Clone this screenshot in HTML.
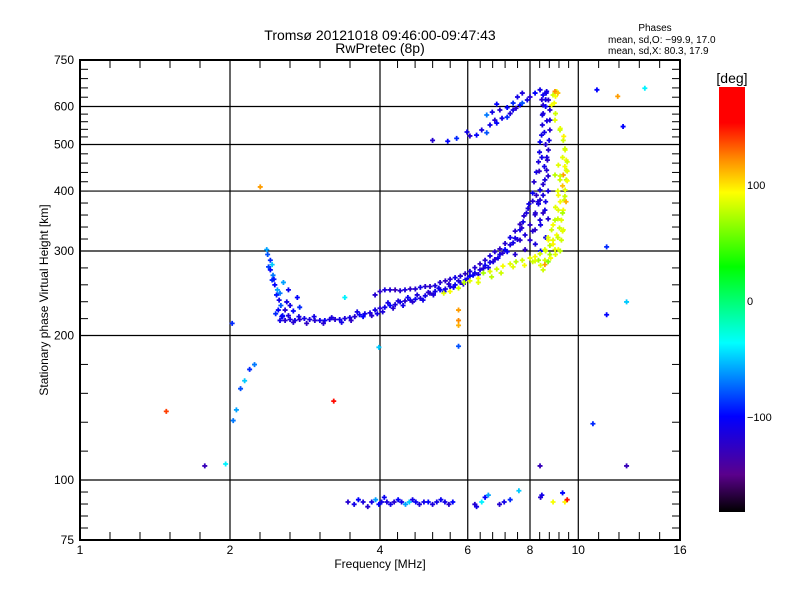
<!DOCTYPE html>
<html><head><meta charset="utf-8"><style>
html,body{margin:0;padding:0;background:#fff;}
svg{display:block;font-family:"Liberation Sans",sans-serif;}
</style></head><body>
<svg id="chart" width="800" height="600" viewBox="0 0 800 600" xmlns="http://www.w3.org/2000/svg">
<defs>
<linearGradient id="cbar" x1="0" y1="1" x2="0" y2="0">
<stop offset="0" stop-color="#000000"/>
<stop offset="0.088" stop-color="#5a008c"/>
<stop offset="0.225" stop-color="#0000ff"/>
<stop offset="0.398" stop-color="#00ffff"/>
<stop offset="0.577" stop-color="#00ff00"/>
<stop offset="0.752" stop-color="#ffff00"/>
<stop offset="0.830" stop-color="#ff8c00"/>
<stop offset="0.916" stop-color="#ff0000"/>
<stop offset="1" stop-color="#ff0000"/>
</linearGradient>
</defs>
<text x="380" y="40" font-size="14" text-anchor="middle">Tromsø 20121018 09:46:00-09:47:43</text>
<text x="380" y="53" font-size="14" text-anchor="middle">RwPretec (8p)</text>
<text x="655" y="31" font-size="10" text-anchor="middle">Phases</text>
<text x="608" y="43" font-size="10">mean, sd,O: −99.9, 17.0</text>
<text x="608" y="54" font-size="10">mean, sd,X:  80.3, 17.9</text>
<g id="grid"></g>
<g id="points"></g>
<rect x="80" y="60" width="600" height="480" fill="none" stroke="#000" stroke-width="2"/>
<g id="ticks"></g>
<text x="380" y="568" font-size="12" text-anchor="middle">Frequency [MHz]</text>
<text transform="translate(48,300) rotate(-90)" font-size="12" text-anchor="middle">Stationary phase Virtual Height [km]</text>
<rect x="719" y="87" width="26" height="425" fill="url(#cbar)"/>
<text x="732" y="83" font-size="14" text-anchor="middle">[deg]</text>
<text x="747" y="189" font-size="11">100</text>
<text x="747" y="305" font-size="11">0</text>
<text x="747" y="421" font-size="11">−100</text>
</svg>
<script>
const xTicks=[1,2,4,6,8,10,16];
const yTicks=[75,100,200,300,400,500,600,750];
const xGrid=[2,4,6,8,10];
const yGrid=[100,200,300,400,500,600];
// O lower trace
const oLowF=[2.52,2.58,2.64,2.70,2.76,2.82,2.89,2.96,3.03,3.10,3.17,3.25,3.32,3.40,3.48,3.56,3.64,3.73,3.82,3.91,4.0,4.09,4.19,4.29,4.39,4.49,4.6,4.71,4.82,4.93,5.04,5.16,5.28,5.41,5.53,5.66,5.8,5.93,6.06,6.2,6.35,6.5,6.65,6.8,6.96,7.13,7.3,7.47,7.64,7.75,7.87,7.96,8.1,8.15,8.24,8.32,8.36,8.38,8.44,8.47,8.47,8.5,8.5];
const oLowH=[215,215,216,215,216,217,216,215,215,215,216,216,216,217,218,219,221,222,223,226,228,229,231,232,235,236,237,238,239,242,245,247,249,250,253,255,258,261,266,270,274,280,284,288,295,302,309,319,332,345,360,376,396,418,438,460,482,506,523,549,576,604,634];
const oLowP=[-110,-120,-115,-110,-125,-110,-115,-120,-110,-105,-115,-120,-110,-115,-110,-120,-105,-110,-115,-110,-120,-110,-100,-115,-110,-120,-110,-105,-115,-110,-120,-110,-100,-115,-110,-105,-115,-110,-100,-110,-115,-105,-110,-120,-110,-100,-115,-110,-105,-110,-115,-110,-105,-120,-110,-115,-110,-105,-110,-115,-110,-120,-105];
// O lower trace, second row (thickness)
const oLow2F=[2.55,2.62,2.68,2.75,2.85,2.95,3.08,3.2,3.35,3.5,3.6,3.7,3.85,3.95,4.05,4.15,4.25,4.35,4.45,4.55,4.65,4.75,4.88,5.0,5.12,5.25,5.38,5.5,5.62,5.75,5.88,6.0,6.15,6.3,6.45,6.6,6.75,6.9,7.05,7.2,7.4,7.55,7.7];
const oLow2H=[219,220,213,219,212,219,212,218,213,215,224,219,220,222,224,234,228,236,231,240,235,243,237,246,243,251,247,256,252,260,256,263,267,268,276,277,285,290,297,299,312,317,335];
const oLow2P=[-100,-115,-120,-110,-125,-110,-120,-115,-110,-125,-110,-100,-120,-110,-115,-110,-120,-115,-110,-105,-120,-115,-110,-120,-115,-110,-105,-120,-110,-115,-120,-110,-105,-115,-120,-110,-115,-110,-120,-105,-110,-115,-120];
// O upper trace
const oUpF=[3.91,4.0,4.09,4.19,4.29,4.39,4.49,4.6,4.71,4.82,4.93,5.04,5.16,5.28,5.41,5.53,5.66,5.8,5.93,6.06,6.2,6.35,6.5,6.65,6.8,6.96,7.13,7.3,7.47,7.64,7.78,7.93,8.1,8.24,8.38,8.5,8.57,8.64,8.67,8.71,8.74,8.77,8.77,8.77,8.71,8.64,7.64,7.82,8.0,8.19,8.32,8.38,8.5,8.0,8.19,8.38,8.57,7.47,7.82];
const oUpH=[243,247,249,249,249,248,249,250,250,252,253,253,254,258,260,262,264,266,269,272,277,282,287,293,299,303,311,320,330,341,355,368,381,392,402,413,422,442,464,487,510,536,562,590,619,645,316,324,340,357,376,383,392,316,332,348,365,295,302];
const oUpP=[-120,-125,-115,-120,-130,-120,-115,-125,-120,-110,-120,-125,-115,-120,-125,-120,-110,-120,-125,-115,-120,-125,-120,-115,-120,-125,-120,-110,-120,-125,-120,-115,-120,-125,-110,-120,-115,-120,-125,-120,-110,-120,-115,-120,-125,-110,-120,-115,-125,-120,-110,-120,-115,-120,-125,-115,-110,-120,-125];
// O fill near the cusp
const oFillF=[8.55,8.6,8.65,8.6,8.45,8.6,8.3,8.2,8.4,8.5,8.6,8.7,8.7,8.6,8.4,8.2,8.1,8.55,8.65,8.7,8.45,8.35,8.5,8.62];
const oFillH=[450,500,560,600,620,620,380,360,340,360,380,400,350,320,300,310,330,530,470,430,470,440,580,640];
const oFillP=[-110,-120,-115,-105,-120,-110,-115,-120,-110,-125,-110,-115,-120,-110,-100,-115,-120,-110,-115,-120,-110,-125,-115,-110];
// X trace
const xF=[5.37,5.53,5.75,5.9,6.06,6.3,6.45,6.65,6.86,7.06,7.3,7.5,7.72,8.0,8.19,8.38,8.57,8.77,8.9,9.05,9.17,9.25,9.33,9.37,9.41,9.46,9.46,9.46,9.41,9.33,9.19,8.98,8.84,8.9,9.05,8.57,8.77,8.98,8.71,8.84,8.98,9.12,9.12,9.19,9.12,8.98,8.32,8.5,8.19,9.12,9.25,9.33,8.57,9.33,8.98];
const xH=[245,247,251,258,260,263,270,272,275,279,282,285,287,290,292,296,302,308,316,324,335,348,365,383,402,422,442,464,487,510,536,562,604,634,645,287,295,302,316,332,348,365,392,422,453,432,287,274,286,302,316,332,281,432,645];
const xP=[85,90,80,75,85,90,70,85,80,90,85,75,80,85,90,80,85,75,85,90,80,85,90,80,85,75,80,90,85,80,75,85,90,80,85,80,70,85,90,80,75,85,90,80,85,75,70,80,85,90,80,85,120,120,125];
// X fill
const x2F=[8.6,8.8,9.0,9.2,8.7,8.9,9.1,9.3,8.9,9.1,9.3,9.0,9.2,9.4,9.1,9.3,9.2,9.4,9.3,9.4,9.35,9.2,9.0,8.95,8.7,8.4,8.1,7.8,7.4,7.0,6.7,6.3,9.5,9.5,9.5,9.45,9.0,9.1];
const x2H=[300,290,295,300,320,310,320,330,340,350,360,370,380,390,400,410,430,450,470,490,520,540,580,610,285,280,285,280,278,270,265,258,420,440,460,380,630,640];
const x2P=[80,90,85,75,85,95,80,85,90,80,70,85,90,80,85,110,80,90,85,80,95,85,80,90,60,85,80,90,85,80,75,85,90,85,80,115,90,110];
// 2.4 MHz cluster
const cF=[2.37,2.38,2.41,2.43,2.41,2.44,2.43,2.46,2.49,2.48,2.51,2.53,2.50,2.55,2.58,2.64,2.73,2.76,2.56,2.62,2.39,2.45,2.52,2.6,2.68,2.47,2.54];
const cH=[302,295,287,281,274,267,261,255,249,243,237,231,226,220,226,231,240,229,258,249,278,262,245,235,225,222,219];
const cP=[-60,-80,-90,-50,-100,-70,-90,-100,-60,-95,-110,-80,-100,-95,-120,-110,-100,-90,-60,-105,-85,-95,-70,-110,-100,-90,-105];
// Top segment
const tF=[5.1,5.47,5.7,5.98,6.06,6.25,6.4,6.55,6.65,6.8,6.86,7.03,7.2,7.3,7.4,7.5,7.64,7.72,7.9,8.0,8.19,8.38,6.55,6.72,6.96,7.2,7.4,7.55,7.72,6.86];
const tH=[510,508,515,531,521,523,536,529,549,562,554,567,570,580,590,595,604,610,619,628,640,650,576,584,590,597,610,628,640,607];
const tP=[-120,-100,-90,-110,-120,-100,-115,-80,-110,-120,-100,-110,-90,-115,-110,-120,-100,-80,-110,-120,-100,-110,-70,-110,-120,-100,-90,-110,-115,-100];
// E-region band
const eF=[3.45,3.55,3.62,3.7,3.78,3.85,3.92,3.98,4.03,4.08,4.13,4.2,4.27,4.35,4.42,4.5,4.58,4.65,4.72,4.8,4.9,5.0,5.1,5.2,5.3,5.4,5.5,5.6,6.2,6.25,6.4,6.5,6.6,6.95,7.1,7.3,7.6,8.4,8.45,8.9,9.3,9.4,9.5];
const eH=[90,89,91,90,88,90,91,89,90,92,90,89,90,91,90,89,90,91,90,89,90,90,89,90,91,90,89,90,89,88,90,92,93,89,90,91,95,92,93,90,94,90,91];
const eP=[-120,-110,-100,-115,-120,-110,-60,-100,-110,-105,-115,-110,-120,-100,-110,-60,-50,-110,-105,-115,-110,-100,-115,-110,-105,-110,-120,-100,-120,-110,-40,-100,-60,-120,-110,-90,-50,-120,-110,90,-100,95,150];
// scattered
const sF=[1.49,1.78,1.96,2.02,2.3,3.23,3.98,5.75,8.38,12.5,10.7,11.4,12.3,11.4,12.5,10.9,12.0,13.6,2.03,2.06,2.1,2.14,2.19,2.24,5.75,5.75,5.75,3.4];
const sH=[139,107,108,212,408,146,189,190,107,107,131,221,545,306,235,650,630,655,133,140,155,161,170,174,226,215,210,240];
const sP=[140,-130,-40,-90,120,150,-50,-80,-130,-130,-90,-100,-100,-90,-50,-100,120,-40,-70,-60,-80,-50,-90,-70,120,125,115,-40];

const X=f=>80+150*Math.log2(f);
const Y=h=>540-480*Math.log10(h/75);
const stops=[[-182,[0,0,0]],[-150,[90,0,140]],[-100,[0,0,255]],[-37,[0,255,255]],[28,[0,255,0]],[92,[255,255,0]],[125,[255,140,0]],[152,[255,0,0]],[183,[255,0,0]]];
function col(p){
  for(let i=0;i<stops.length-1;i++){
    const a=stops[i],b=stops[i+1];
    if(p<=b[0]){const t=Math.max(0,(p-a[0])/(b[0]-a[0]));
      const c=a[1].map((v,k)=>Math.round(v+(b[1][k]-v)*t));return `rgb(${c})`;}
  }
  return 'rgb(255,0,0)';
}
const NS='http://www.w3.org/2000/svg';
const grid=document.getElementById('grid');
xGrid.forEach(v=>{const l=document.createElementNS(NS,'line');


l.setAttribute('x1',X(v));l.setAttribute('x2',X(v));l.setAttribute('y1',60);l.setAttribute('y2',540);l.setAttribute('stroke','#000');l.setAttribute('stroke-width','1.2');grid.appendChild(l);});
yGrid.forEach(v=>{const l=document.createElementNS(NS,'line');


l.setAttribute('y1',Y(v));l.setAttribute('y2',Y(v));l.setAttribute('x1',80);l.setAttribute('x2',680);l.setAttribute('stroke','#000');l.setAttribute('stroke-width','1.2');grid.appendChild(l);});
const tk=document.getElementById('ticks');
function tline(x1,y1,x2,y2){const l=document.createElementNS(NS,'line');


l.setAttribute('x1',x1);l.setAttribute('y1',y1);l.setAttribute('x2',x2);l.setAttribute('y2',y2);l.setAttribute('stroke','#000');tk.appendChild(l);}
function tlabel(x,y,s,anchor){const t=document.createElementNS(NS,'text');


t.setAttribute('x',x);t.setAttribute('y',y);t.setAttribute('font-size','12');t.setAttribute('text-anchor',anchor);t.textContent=s;tk.appendChild(t);}
for(let i=0;i<xTicks.length;i++){const x=X(xTicks[i]);
  tlabel(x,554,xTicks[i],'middle');
  if(i<xTicks.length-1){const x2=X(xTicks[i+1]);
    for(let k=1;k<5;k++){const xx=x+(x2-x)*k/5;tline(xx,540,xx,532);tline(xx,60,xx,68);}}}
for(let i=0;i<yTicks.length;i++){const y=Y(yTicks[i]);
  tlabel(74,y+4,yTicks[i],'end');
  if(i<yTicks.length-1){const y2=Y(yTicks[i+1]);
    for(let k=1;k<5;k++){const yy=y+(y2-y)*k/5;tline(80,yy,88,yy);tline(680,yy,672,yy);}}
  tline(80,y,88,y);tline(680,y,672,y);}
const pg=document.getElementById('points');
function plot(F,H,P,name){for(let i=0;i<F.length;i++){
  const x=X(F[i]),y=Y(H[i]);const p=document.createElementNS(NS,'path');
  
  
  p.setAttribute('d',`M${x-2.5},${y}H${x+2.5}M${x},${y-2.5}V${y+2.5}`);
  p.setAttribute('stroke',col(P[i]));p.setAttribute('stroke-width','1.8');pg.appendChild(p);}}
plot(oLowF,oLowH,oLowP,'o-mode-point');
plot(oLow2F,oLow2H,oLow2P,'o-mode-point');
plot(oUpF,oUpH,oUpP,'o-mode-point');
plot(oFillF,oFillH,oFillP,'o-mode-point');
plot(cF,cH,cP,'cluster-point');
plot(tF,tH,tP,'top-segment-point');
plot(eF,eH,eP,'e-region-point');
plot(xF,xH,xP,'x-mode-point');
plot(x2F,x2H,x2P,'x-mode-point');
plot(sF,sH,sP,'scatter-point');
</script>
</body></html>
